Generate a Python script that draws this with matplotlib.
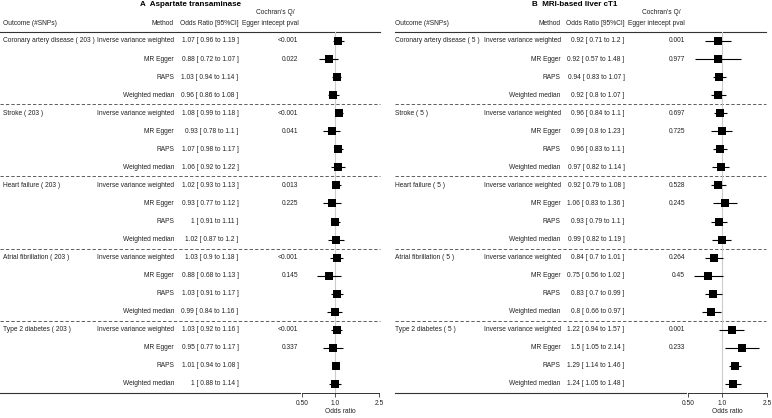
import numpy as np
import matplotlib.pyplot as plt

plt.rcParams['font.family'] = ['Liberation Sans', 'DejaVu Sans']

outcomes = ["Coronary artery disease", "Stroke", "Heart failure", "Atrial fibrillation", "Type 2 diabetes"]
methods = ["Inverse variance weighted", "MR Egger", "RAPS", "Weighted median"]

# panel A - aspartate transaminase (203 SNPs), rows in outcome/method order
a_snps = 203
a_or = [1.07, 0.88, 1.03, 0.96,  1.08, 0.93, 1.07, 1.06,  1.02, 0.93, 1.00, 1.02,
        1.03, 0.88, 1.03, 0.99,  1.03, 0.95, 1.01, 1.00]
a_lo = [0.96, 0.72, 0.94, 0.86,  0.99, 0.78, 0.98, 0.92,  0.93, 0.77, 0.91, 0.87,
        0.90, 0.68, 0.91, 0.84,  0.92, 0.77, 0.94, 0.88]
a_hi = [1.19, 1.07, 1.14, 1.08,  1.18, 1.10, 1.17, 1.22,  1.13, 1.12, 1.11, 1.20,
        1.18, 1.13, 1.17, 1.16,  1.16, 1.17, 1.08, 1.14]
a_p = ["<0.001", "0.022", "", "",  "<0.001", "0.041", "", "",  "0.013", "0.225", "", "",
       "<0.001", "0.145", "", "",  "<0.001", "0.337", "", ""]

# panel B - MRI-based liver cT1 (5 SNPs)
b_snps = 5
b_or = [0.92, 0.92, 0.94, 0.92,  0.96, 0.99, 0.96, 0.97,  0.92, 1.06, 0.93, 0.99,
        0.84, 0.75, 0.83, 0.80,  1.22, 1.50, 1.29, 1.24]
b_lo = [0.71, 0.57, 0.83, 0.80,  0.84, 0.80, 0.83, 0.82,  0.79, 0.83, 0.79, 0.82,
        0.70, 0.56, 0.70, 0.66,  0.94, 1.05, 1.14, 1.05]
b_hi = [1.20, 1.48, 1.07, 1.07,  1.10, 1.23, 1.10, 1.14,  1.08, 1.36, 1.10, 1.19,
        1.01, 1.02, 0.99, 0.97,  1.57, 2.14, 1.46, 1.48]
b_p = ["0.001", "0.977", "", "",  "0.697", "0.725", "", "",  "0.528", "0.245", "", "",
       "0.264", "0.45", "", "",  "0.001", "0.233", "", ""]

xticks = [0.5, 1.0, 2.5]
xticklabels = ["0.50", "1.0", "2.5"]

W, H = 772, 418
fig = plt.figure(figsize=(W / 100, H / 100), dpi=100)
bg = fig.add_axes([0, 0, 1, 1])
bg.set_xlim(0, W)
bg.set_ylim(H, 0)
bg.axis('off')

fs = 4.8
tc = '#222222'
y_top, y_bot = 32, 393
row0, dy = 41, 18.05
nrow = len(outcomes) * len(methods)


def panel(title, nsnp, orr, lo, hi, pv, p):
    # title + headers
    bg.text(p['title'], 5, title, ha='center', va='center', fontsize=5.8, weight='bold', color='black')
    bg.text(p['out'], 23.3, "Outcome (#SNPs)", ha='left', va='center', fontsize=fs, color=tc)
    bg.text(p['meth'], 23.3, "Method", ha='right', va='center', fontsize=fs, color=tc)
    bg.text(p['orc'], 23.3, "Odds Ratio [95%CI]", ha='right', va='center', fontsize=fs, color=tc)
    bg.text(p['pc'] - 4, 12.7, "Cochran's Q/", ha='right', va='center', fontsize=fs, color=tc)
    bg.text(p['pc'], 23.3, "Egger intecept pval", ha='right', va='center', fontsize=fs, color=tc)
    bg.plot([p['l0'], p['l1']], [y_top, y_top], color='#333333', lw=0.8)
    bg.plot([p['l0'], p['ax0'] - 2], [y_bot, y_bot], color='#333333', lw=0.8)
    for k in range(1, len(outcomes)):
        yy = row0 + (k * len(methods) - 0.5) * dy
        bg.plot([p['l0'], p['l1']], [yy, yy], color='#444444', lw=0.6, ls=(0, (4, 2.5)))

    for i in range(nrow):
        y = row0 + i * dy
        g, m = divmod(i, len(methods))
        if m == 0:
            bg.text(p['out'], y, "%s ( %d )" % (outcomes[g], nsnp), ha='left', va='center', fontsize=fs, color=tc)
        bg.text(p['meth'], y, methods[m], ha='right', va='center', fontsize=fs, color=tc)
        bg.text(p['orc'], y, "%g [ %g to %g ]" % (orr[i], lo[i], hi[i]), ha='right', va='center', fontsize=fs, color=tc)
        if pv[i]:
            bg.text(p['pc'], y, pv[i], ha='right', va='center', fontsize=fs, color=tc)

    ax = fig.add_axes([p['ax0'] / W, (H - y_bot) / H, (p['ax1'] - p['ax0']) / W, (y_bot - y_top) / H])
    ax.patch.set_alpha(0)
    ax.set_xscale('log')
    ax.set_xlim(0.5, 2.5)
    ax.set_ylim(nrow - 0.5, -0.5)
    rows = np.arange(nrow)
    ax.axvline(1.0, color='#cccccc', lw=0.8, zorder=0)
    ax.hlines(rows, lo, hi, color='black', lw=0.8)
    ax.plot(orr, rows, 's', color='black', ms=5.3, mew=0)
    for s in ['top', 'right', 'left']:
        ax.spines[s].set_visible(False)
    ax.spines['bottom'].set_linewidth(0.7)
    ax.spines['bottom'].set_color('#333333')
    ax.set_yticks([])
    ax.set_xticks(xticks)
    ax.set_xticklabels(xticklabels)
    ax.minorticks_off()
    ax.tick_params(axis='x', length=2.6, width=0.6, pad=2.5, labelsize=fs, colors='#333333', labelcolor=tc)
    ax.set_xlabel("Odds ratio", fontsize=fs, color=tc, labelpad=0.8)
    return ax


pa = dict(title=190, out=2.7, meth=174, orc=238.5, pc=298.5, ax0=301.7, ax1=379.3, l0=0, l1=380)
pb = dict(title=575, out=395, meth=560.7, orc=624.5, pc=685, ax0=688.3, ax1=767, l0=395, l1=766)

panel("A  Aspartate transaminase", a_snps, a_or, a_lo, a_hi, a_p, pa)
panel("B  MRI-based liver cT1", b_snps, b_or, b_lo, b_hi, b_p, pb)

fig.savefig("out.png", dpi=100)
